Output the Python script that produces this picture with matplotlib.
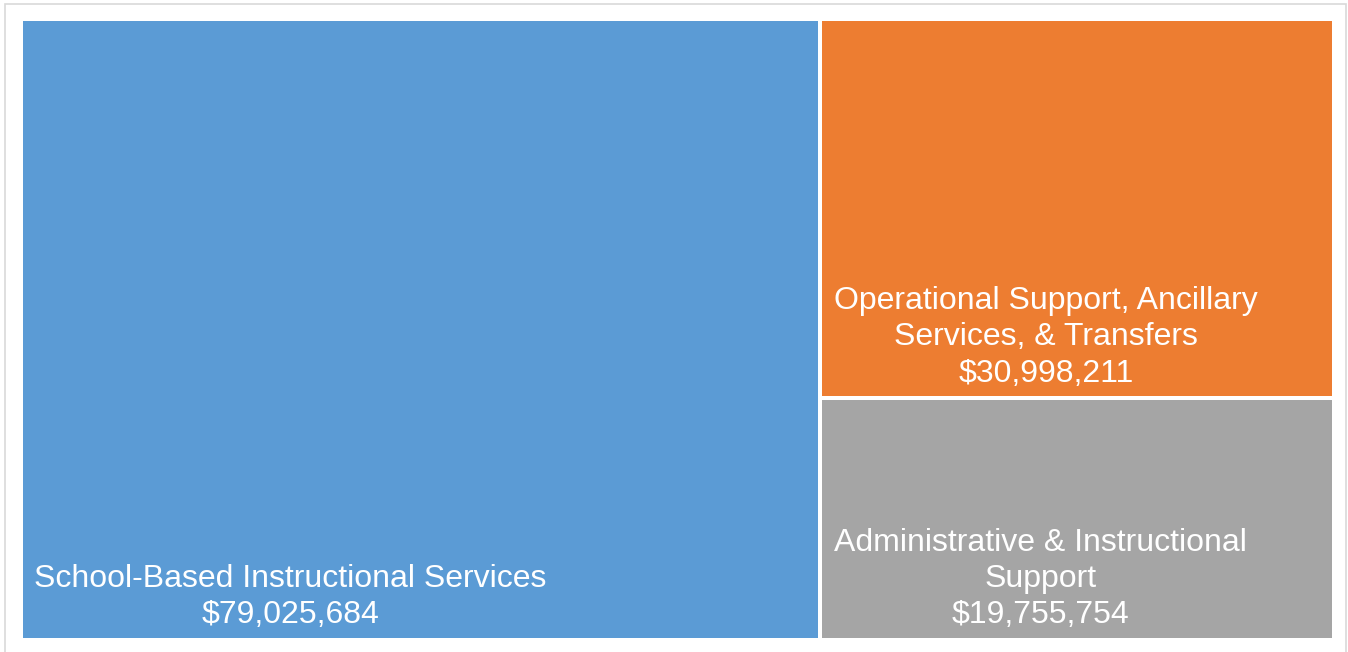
import matplotlib
matplotlib.use("Agg")
import matplotlib.pyplot as plt
from matplotlib.patches import Rectangle

# spending categories and amounts
categories = [
    "School-Based Instructional Services",
    "Operational Support, Ancillary\nServices, & Transfers",
    "Administrative & Instructional\nSupport",
]
amounts = [79025684, 30998211, 19755754]
colors = ["#5B9BD5", "#ED7D31", "#A5A5A5"]

plt.rcParams["font.family"] = ["Liberation Sans", "DejaVu Sans"]

W, H, DPI = 1348, 652, 100
fig = plt.figure(figsize=(W / DPI, H / DPI), dpi=DPI)

# light frame around the chart area
fig.patches.append(Rectangle((5 / W, -0.05), (1346 - 5) / W, 1.05 - 4 / H,
                             transform=fig.transFigure, fill=False,
                             edgecolor="#d9d9d9", linewidth=1.2))

# plot area (pixel box, padded by half the gap so the edge strokes sit inside)
x0, x1, y0, y1 = 20.5, 1334, 19, 640
ax = fig.add_axes([x0 / W, 1 - y1 / H, (x1 - x0) / W, (y1 - y0) / H])
ax.set_xlim(0, 1)
ax.set_ylim(0, 1)
ax.axis("off")

# slice-and-dice layout: biggest block on the left, rest stacked on the right
total = sum(amounts)
wl = amounts[0] / total
rest = amounts[1] + amounts[2]
h_top = amounts[1] / rest
rects = [
    (0, 0, wl, 1),
    (wl, 1 - h_top, 1 - wl, h_top),
    (wl, 0, 1 - wl, 1 - h_top),
]

gap_pt = 4 * 72 / DPI
for (rx, ry, rw, rh), name, val, c in zip(rects, categories, amounts, colors):
    ax.add_patch(Rectangle((rx, ry), rw, rh, facecolor=c, edgecolor="white",
                           linewidth=gap_pt))
    ax.annotate(f"{name}\n${val:,.0f}", xy=(rx, ry), xytext=(10, 7),
                textcoords="offset points", ha="left", va="bottom",
                multialignment="center", color="white", fontsize=23,
                linespacing=1.27)

fig.savefig("out.png", dpi=DPI, facecolor="white")
